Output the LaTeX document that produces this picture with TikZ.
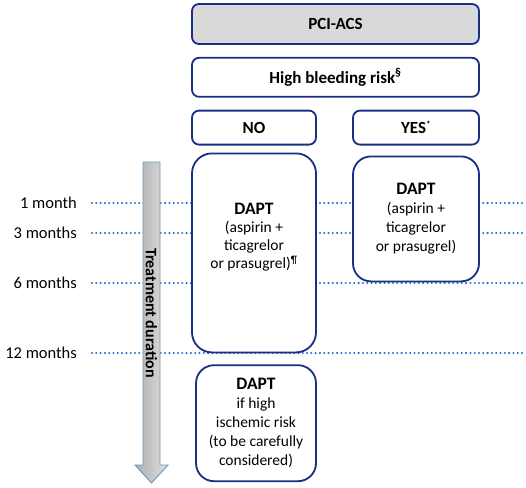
\documentclass[tikz,border=0pt]{standalone}
\usepackage{fontspec}
\setmainfont{Carlito}
\usetikzlibrary{positioning}
\definecolor{boxblue}{RGB}{24,48,130}
\definecolor{dotblue}{RGB}{40,110,200}
\definecolor{headgray}{RGB}{217,217,217}
\definecolor{arrowedge}{RGB}{110,150,185}

\begin{document}
\begin{tikzpicture}[x=1pt,y=-1pt,node distance=12pt,
    box/.style={draw=boxblue,line width=1.8pt,fill=white,rounded corners=7pt,inner sep=0pt,
      font=\fontsize{17}{20}\selectfont\bfseries},
    dapt/.style={draw=boxblue,line width=1.8pt,fill=white,rounded corners=18pt,inner sep=0pt,
      align=center,font=\fontsize{15.5}{19}\selectfont},
    month/.style={anchor=east,inner sep=1pt,font=\fontsize{16.5}{20}\selectfont},
    dotline/.style={dotblue,line width=2.3pt,line cap=round,dash pattern=on 0pt off 4.3pt}]

  \useasboundingbox (0,0) rectangle (526,487);
  \coordinate (edge) at (524,0);

  % time marks
  \node[month] (m1) at (78,203) {1 month};
  \node[month] (m3) at (78,233) {3 months};
  \node[month] (m6) at (78,283) {6 months};
  \node[month] (m12) at (78,353) {12 months};
  \foreach \m in {m1,m3,m6,m12}
    \draw[dotline] ([xshift=14pt]\m.east) -- (\m -| edge);

  % decision boxes
  \node[box,fill=headgray,minimum width=287pt,minimum height=40pt] (pci) at (335.5,24) {PCI-ACS};
  \node[box,minimum width=287pt,minimum height=39pt,below=12pt of pci] (hbr)
    {High bleeding risk\textsuperscript{§}};
  \node[box,minimum width=124pt,minimum height=34pt,below=12pt of hbr.south west,anchor=north west] (no) {NO};
  \node[box,minimum width=126pt,minimum height=34pt,below=12pt of hbr.south east,anchor=north east] (yes)
    {YES\textsuperscript{\fontsize{9}{9}\selectfont*}};

  % therapy boxes
  \node[dapt,rounded corners=20pt,minimum width=124pt,minimum height=199pt,
        below=7pt of no.south west,anchor=north west] (nodapt) {};
  \node[align=center,font=\fontsize{15.5}{18}\selectfont] (notxt) at ([yshift=16pt]nodapt.center)
    {{\bfseries\fontsize{17.5}{22}\selectfont DAPT}\\(aspirin +\\ticagrelor\\or prasugrel)\textsuperscript{¶}};
  \node[dapt,minimum width=126pt,minimum height=125pt,below=10pt of yes.south east,anchor=north east] (yesdapt)
    {{\bfseries\fontsize{17.5}{21}\selectfont DAPT}\\(aspirin +\\ticagrelor\\or prasugrel)};
  \node[dapt,minimum width=120pt,minimum height=116pt,below=11pt of nodapt.south east,anchor=north east] (ext)
    {{\bfseries\fontsize{17.5}{21}\selectfont DAPT}\\if high\\ischemic risk\\(to be carefully\\considered)};

  % time arrow
  \draw[arrowedge,line width=0.9pt,left color=black!32,right color=black!12]
    (143,162) -- (160,162) -- (160,465) -- (168,465) -- (151.5,483) -- (135,465) -- (143,465) -- cycle;
  \node[rotate=-90,font=\fontsize{16}{18}\selectfont\bfseries] (dur) at (151.5,313) {Treatment duration};

\end{tikzpicture}
\end{document}
